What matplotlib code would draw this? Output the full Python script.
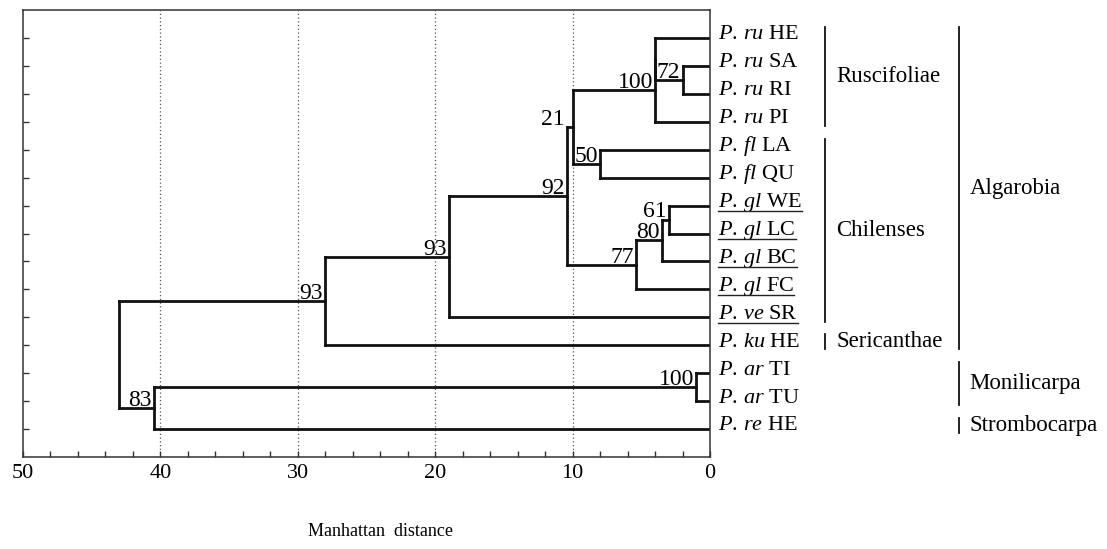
import matplotlib
matplotlib.use("Agg")
import matplotlib.pyplot as plt
from matplotlib.lines import Line2D
from matplotlib.ticker import MultipleLocator
from matplotlib.transforms import blended_transform_factory

plt.rcParams['font.family'] = ['Liberation Serif', 'DejaVu Serif']
plt.rcParams['mathtext.fontset'] = 'custom'
plt.rcParams['mathtext.rm'] = 'Liberation Serif'
plt.rcParams['mathtext.it'] = 'Liberation Serif:italic'

# leaves, top to bottom
species = ["ru", "ru", "ru", "ru", "fl", "fl", "gl", "gl", "gl", "gl", "ve", "ku", "ar", "ar", "re"]
sites = ["HE", "SA", "RI", "PI", "LA", "QU", "WE", "LC", "BC", "FC", "SR", "HE", "TI", "TU", "HE"]
underlined = [False] * 6 + [True] * 5 + [False] * 4

# merges: ids 0..14 are leaves, merge k gets id 15 + k
merge_left = [1, 0, 16, 4, 17, 6, 20, 21, 19, 23, 24, 12, 26, 25]
merge_right = [2, 15, 3, 5, 18, 7, 8, 9, 22, 10, 11, 13, 14, 27]
merge_height = [2.0, 4.0, 4.0, 8.0, 10.0, 3.0, 3.5, 5.4, 10.4, 19.0, 28.0, 1.0, 40.5, 43.0]
bootstrap = [72, None, 100, 50, 21, 61, 80, 77, 92, 93, 93, 100, 83, None]

# sections / subgenera on the right
group_names = ["Ruscifoliae", "Chilenses", "Sericanthae", "Algarobia", "Monilicarpa", "Strombocarpa"]
group_first = [0, 4, 11, 0, 12, 14]
group_last = [3, 10, 11, 11, 13, 14]
group_level = [0, 0, 0, 1, 1, 1]

x_ticks = [50, 40, 30, 20, 10, 0]
x_label = "Manhattan  distance"


def draw_tree(ax):
    n = len(species)
    ypos = {i: float(i) for i in range(n)}
    hpos = {i: 0.0 for i in range(n)}
    parent_h = {}
    for k in range(len(merge_height)):
        parent_h[merge_left[k]] = merge_height[k]
        parent_h[merge_right[k]] = merge_height[k]
    lw = 2.0
    for k in range(len(merge_height)):
        a, b, h = merge_left[k], merge_right[k], merge_height[k]
        nid = n + k
        ax.plot([h, h], [ypos[a], ypos[b]], color='#111111', lw=lw, solid_capstyle='projecting')
        for c in (a, b):
            if hpos[c] < h:
                ax.plot([hpos[c], h], [ypos[c], ypos[c]], color='#111111', lw=lw,
                        solid_capstyle='projecting')
        ypos[nid] = (ypos[a] + ypos[b]) / 2
        hpos[nid] = h
    # bootstrap values, just above the outgoing branch
    for k in range(len(merge_height)):
        if bootstrap[k] is None:
            continue
        nid = n + k
        h = merge_height[k]
        # very short branch: put the number left of the parent line
        if nid in parent_h and parent_h[nid] - h < 0.45:
            h = parent_h[nid]
        ax.annotate(str(bootstrap[k]), xy=(h, ypos[nid]), xytext=(-1.5, 1.5),
                    textcoords='offset points', ha='right', va='baseline', fontsize=17)


def main():
    fig = plt.figure(figsize=(11.07, 5.49), dpi=100)
    ax = fig.add_axes([23 / 1107, 1 - 457 / 549, 687 / 1107, 447 / 549])
    n = len(species)

    ax.set_xlim(50, 0)
    ax.set_ylim(n, -1)
    ax.set_xticks(x_ticks)
    ax.xaxis.set_minor_locator(MultipleLocator(2))
    ax.set_yticks(range(n))
    ax.set_yticklabels([])
    ax.tick_params(axis='x', which='both', direction='in', length=4, width=1, labelsize=16,
                   color='#333333', pad=5)
    ax.tick_params(axis='y', direction='in', length=4, width=1, color='#333333')
    for s in ax.spines.values():
        s.set_color('#333333')
        s.set_linewidth(1.1)
    for g in [10, 20, 30, 40]:
        ax.axvline(g, color='#555555', lw=0.9, ls=(0, (1, 2)), zorder=0)

    draw_tree(ax)

    # leaf labels: italic species code, roman site code
    leaf_texts = []
    for i in range(n):
        lab = r"$\mathit{P.\,%s}$ %s" % (species[i], sites[i])
        t = ax.annotate(lab, xy=(0, i), xytext=(6, -1), textcoords='offset points',
                        ha='left', va='baseline', fontsize=16, annotation_clip=False)
        leaf_texts.append(t)

    # group brackets
    trans = blended_transform_factory(ax.transAxes, ax.transData)
    bar_x = [1.168, 1.362]
    for name, first, last, lev in zip(group_names, group_first, group_last, group_level):
        y0 = first - 0.4
        y1 = last + 0.15
        ax.plot([bar_x[lev], bar_x[lev]], [y0, y1], color='#111111', lw=1.3,
                transform=trans, clip_on=False)
        ax.text(bar_x[lev] + 0.016, (y0 + y1) / 2, name, transform=trans, ha='left',
                va='center', fontsize=16.5)

    fig.text(381 / 1107, 1 - 532 / 549, x_label, ha='center', va='center', fontsize=13)

    # underline some leaf labels
    fig.canvas.draw()
    renderer = fig.canvas.get_renderer()
    inv = fig.transFigure.inverted()
    for i, t in enumerate(leaf_texts):
        if not underlined[i]:
            continue
        bb = t.get_window_extent(renderer)
        ybase = ax.transData.transform((0, i))[1] - 1 * fig.dpi / 72
        p0 = inv.transform((bb.x0, ybase - 4))
        p1 = inv.transform((bb.x1, ybase - 4))
        fig.add_artist(Line2D([p0[0], p1[0]], [p0[1], p1[1]], color='#222222', lw=1.0,
                              transform=fig.transFigure))

    fig.savefig('out.png', dpi=100)


if __name__ == "__main__":
    main()
